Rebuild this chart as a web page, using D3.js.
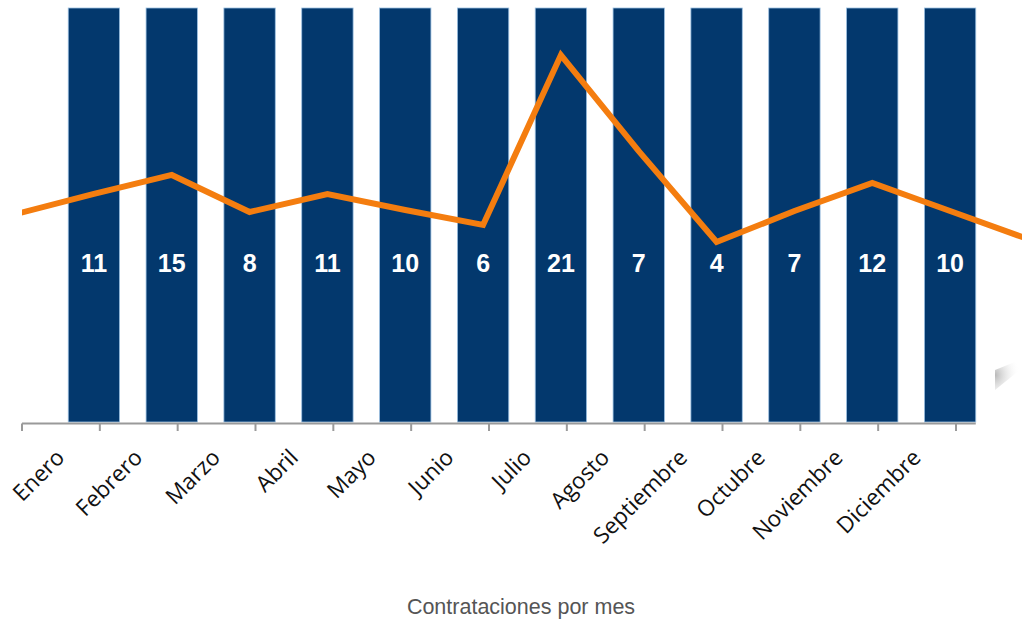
<!DOCTYPE html>
<html><head><meta charset="utf-8">
<script src="https://cdn.jsdelivr.net/npm/d3@7"></script>
<style>body{margin:0;background:#fff}svg{display:block}</style>
</head><body><svg id="c" width="1022" height="620"></svg>
<script>
const months = ["Enero","Febrero","Marzo","Abril","Mayo","Junio","Julio","Agosto","Septiembre","Octubre","Noviembre","Diciembre"];
const hires = [11,15,8,11,10,6,21,7,4,7,12,10];
// orange trend line (same 0–25 scale as plot height), with lead-in / lead-out beyond the edges
const trend = [13.77,14.92,12.68,13.77,12.80,11.90,22.16,16.36,10.87,12.74,14.43,12.74];
const trendLeadIn = 12.56, trendLeadOut = 11.05;
const chartTitle = "Contrataciones por mes";

(function(){
const svg = d3.select("#c");
const W = 1022, H = 620;
const plotTop = 8, base = 422;

const xLab = d3.scaleBand().domain(months).range([22, 956]).padding(0);
const xBar = d3.scaleBand().domain(months).range([55, 989]).paddingInner(0.34).paddingOuter(0.17);
const yBar = d3.scaleLinear().domain([0, 1]).range([base, plotTop]);
const yLine = d3.scaleLinear().domain([0, 25]).range([base, plotTop]);

// shadow artifact
const defs = svg.append("defs");
const rg = defs.append("radialGradient").attr("id","sh").attr("cx","0").attr("cy","0.5").attr("r","1");
rg.append("stop").attr("offset","0").attr("stop-color","#999").attr("stop-opacity",0.7);
rg.append("stop").attr("offset","1").attr("stop-color","#fff").attr("stop-opacity",0);
svg.append("path").attr("d","M995,370 L1020,360 L1020,370 L995,390 Z").attr("fill","url(#sh)");

defs.append("clipPath").attr("id","clip").append("rect").attr("x",22).attr("y",0).attr("width",W-22).attr("height",H);

// bars
svg.append("g").selectAll("rect").data(months).join("rect")
  .attr("x", d => xBar(d)).attr("width", xBar.bandwidth())
  .attr("y", yBar(1)).attr("height", yBar(0) - yBar(1))
  .attr("fill", "#03386d").attr("stroke", "#9cc0e2").attr("stroke-width", 0.8);

// axis
const ax = svg.append("g").attr("stroke", "#9a9a9a").attr("stroke-width", 2);
ax.append("line").attr("x1", xLab.range()[0]).attr("x2", xBar(months[11]) + xBar.bandwidth()).attr("y1", base + 1.5).attr("y2", base + 1.5);
const tickPos = months.map(m => xLab(m)).concat([xLab.range()[1]]);
ax.selectAll("line.t").data(tickPos).join("line").attr("class","t")
  .attr("x1", d => d).attr("x2", d => d).attr("y1", base + 1.5).attr("y2", base + 9);

// x labels
svg.append("g").selectAll("text").data(months).join("text")
  .attr("transform", d => `translate(${xLab(d) + xLab.bandwidth()/2 + 5},${base + 37}) rotate(-45)`)
  .attr("text-anchor", "end")
  .attr("font-family", "Open Sans, sans-serif").attr("font-size", 22.5).attr("fill", "#111")
  .text(d => d);

// trend line
const step = xBar.step();
const pts = [[xBar(months[0]) + xBar.bandwidth()/2 - step, trendLeadIn]]
  .concat(months.map((m, i) => [xBar(m) + xBar.bandwidth()/2, trend[i]]))
  .concat([[xBar(months[11]) + xBar.bandwidth()/2 + step, trendLeadOut]]);
svg.append("path").attr("clip-path","url(#clip)")
  .attr("d", d3.line().x(d => d[0]).y(d => yLine(d[1]))(pts))
  .attr("fill","none").attr("stroke","#f47d0f").attr("stroke-width",6).attr("stroke-linejoin","miter");

// value labels
svg.append("g").selectAll("text").data(months).join("text")
  .attr("x", d => xBar(d) + xBar.bandwidth()/2).attr("y", 272)
  .attr("text-anchor","middle")
  .attr("font-family","Liberation Sans, Arial, sans-serif").attr("font-weight","bold").attr("font-size",25)
  .attr("fill","#fff").text((d, i) => hires[i]);

// title
svg.append("text").attr("x", 521).attr("y", 614).attr("text-anchor","middle")
  .attr("font-family","Liberation Sans, Arial, sans-serif").attr("font-size",21.5).attr("fill","#555")
  .text(chartTitle);
})();
</script></body></html>
